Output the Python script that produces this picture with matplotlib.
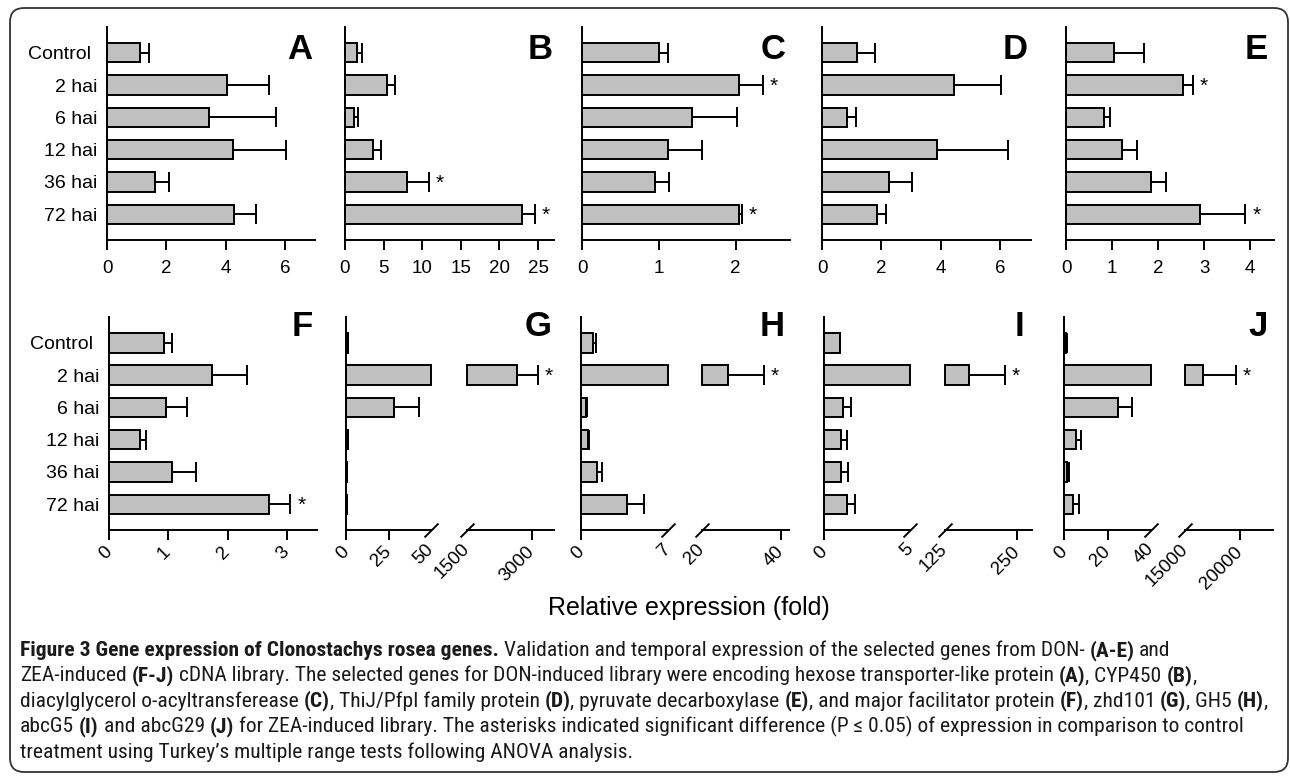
import numpy as np
import matplotlib
matplotlib.use('Agg')
import matplotlib.pyplot as plt
from matplotlib import font_manager
from matplotlib.patches import FancyBboxPatch
from matplotlib.transforms import IdentityTransform, ScaledTranslation

plt.rcParams['font.family'] = ['Liberation Sans', 'DejaVu Sans']

times = ['Control', '2 hai', '6 hai', '12 hai', '36 hai', '72 hai']

# DON-induced library (A-E): mean and SD (fold)
a_mean = [1.10, 4.04, 3.43, 4.24, 1.62, 4.26]
a_sd = [0.32, 1.41, 2.27, 1.80, 0.48, 0.74]
b_mean = [1.55, 5.4, 1.16, 3.6, 8.0, 22.9]
b_sd = [0.65, 1.1, 0.54, 1.1, 2.9, 1.7]
c_mean = [1.00, 2.05, 1.43, 1.12, 0.95, 2.04]
c_sd = [0.12, 0.31, 0.59, 0.44, 0.18, 0.04]
d_mean = [1.18, 4.44, 0.84, 3.87, 2.26, 1.85]
d_sd = [0.62, 1.59, 0.30, 2.39, 0.77, 0.30]
e_mean = [1.04, 2.54, 0.83, 1.22, 1.85, 2.91]
e_sd = [0.66, 0.22, 0.13, 0.33, 0.32, 0.99]

# ZEA-induced library (F-J)
f_mean = [0.93, 1.73, 0.96, 0.52, 1.07, 2.70]
f_sd = [0.13, 0.60, 0.36, 0.10, 0.39, 0.36]
g_mean = [1.0, 2650, 28.5, 1.0, 0.5, 0.5]
g_sd = [0.3, 490, 14.5, 0.2, 0.2, 0.2]
h_mean = [0.97, 26.6, 0.40, 0.56, 1.30, 3.70]
h_sd = [0.23, 9.1, 0.10, 0.06, 0.40, 1.40]
i_mean = [0.93, 167, 1.10, 1.00, 1.00, 1.33]
i_sd = [0.0, 62, 0.47, 0.34, 0.40, 0.47]
j_mean = [1.0, 16640, 24.9, 5.5, 1.5, 4.2]
j_sd = [0.3, 3000, 6.4, 2.3, 0.8, 2.7]

# significant (P <= 0.05) time points per panel
stars = {'A': [], 'B': [4, 5], 'C': [1, 5], 'D': [], 'E': [1, 5],
         'F': [5], 'G': [1], 'H': [1], 'I': [1], 'J': [1]}

caption = [
    [("Figure 3 Gene expression of Clonostachys rosea genes.", True),
     ("Validation and temporal expression of the selected genes from DON-", False),
     ("(A-E)", True), ("and", False)],
    [("ZEA-induced", False), ("(F-J)", True),
     ("cDNA library. The selected genes for DON-induced library were encoding hexose transporter-like protein", False),
     ("(A)", True), (", CYP450", False), ("(B)", True), (",", False)],
    [("diacylglycerol o-acyltransferease", False), ("(C)", True),
     (", ThiJ/PfpI family protein", False), ("(D)", True),
     (", pyruvate decarboxylase", False), ("(E)", True),
     (", and major facilitator protein", False), ("(F)", True),
     (", zhd101", False), ("(G)", True), (", GH5", False), ("(H)", True), (",", False)],
    [("abcG5", False), ("(I)", True), ("and abcG29", False), ("(J)", True),
     ("for ZEA-induced library. The asterisks indicated significant difference (P \u2264 0.05) of expression in comparison to control", False)],
    [("treatment using Turkey\u2019s multiple range tests following ANOVA analysis.", False)],
]

W, H = 1290, 778
fig = plt.figure(figsize=(W / 100, H / 100), dpi=100)
rows = {0: (27, 240), 1: (317, 530)}
ys = np.arange(6)
LW = 1.4
BAR = dict(height=0.6, color='#c0c0c0', edgecolor='black', linewidth=LW, clip_on=False)
ERR = dict(fmt='none', ecolor='black', elinewidth=LW, capsize=7, capthick=LW, clip_on=False)


def px_ax(x0, x1, row):
    y0, y1 = rows[row]
    return fig.add_axes([x0 / W, 1 - y1 / H, (x1 - x0) / W, (y1 - y0) / H])


def style(ax, row, left=True, ylabels=False):
    ax.patch.set_visible(False)
    for s in ['top', 'right']:
        ax.spines[s].set_visible(False)
    ax.spines['left'].set_visible(left)
    ax.spines['left'].set_linewidth(LW)
    ax.spines['bottom'].set_linewidth(LW)
    ax.set_ylim(5.8, -0.8)
    pad = 7 if row == 0 else 6.5
    ax.tick_params(axis='x', which='major', length=7.5, width=LW, labelsize=13.5, pad=pad)
    ax.tick_params(axis='x', which='minor', length=0, labelsize=13.5, pad=pad + 5.4)
    ax.tick_params(axis='y', length=0)
    if ylabels:
        ax.set_yticks(ys)
        ax.set_yticklabels(times, fontsize=14)
        ax.tick_params(axis='y', pad=7)
        lab = ax.get_yticklabels()[0]
        lab.set_transform(lab.get_transform() + ScaledTranslation(-6 / 100, 0, fig.dpi_scale_trans))
    else:
        ax.set_yticks([])
    if row == 1:
        for lab in ax.get_xticklabels(which='both'):
            lab.set_rotation(45)
            lab.set_ha('right')
            lab.set_va('center')
            lab.set_rotation_mode('anchor')


def add_star(ax, x, y):
    ax.annotate('*', xy=(x, y), xytext=(5, -1), textcoords='offset points',
                ha='left', va='center', fontsize=15, annotation_clip=False)


def letter(name, xr, yt):
    fig.text(xr / W, 1 - yt / H, name, ha='right', va='top', fontsize=25, fontweight='bold')


def simple_panel(name, x0, x1, row, mean, sd, xmax, ticks, ylabels=False):
    mean = np.array(mean); sd = np.array(sd)
    ax = px_ax(x0, x1, row)
    ax.barh(ys, mean, **BAR)
    ax.errorbar(mean, ys, xerr=[np.zeros(6), sd], **ERR)
    for k in stars[name]:
        add_star(ax, mean[k] + sd[k], k)
    ax.set_xlim(0, xmax)
    ax.set_xticks(ticks)
    ax.set_xticklabels([str(t) for t in ticks])
    style(ax, row, ylabels=ylabels)
    return ax


def break_mark(ax, xa):
    ax.plot([xa], [0], transform=ax.transAxes, marker=[(-1, -1), (1, 1)], markersize=10,
            color='black', mew=LW, linestyle='none', clip_on=False)


def broken_panel(name, seg1, seg2, mean, sd, lim1, lim2, ticks1, ticks2):
    mean = np.array(mean, dtype=float); sd = np.array(sd, dtype=float)
    ax1 = px_ax(seg1[0], seg1[1], 1)
    ax2 = px_ax(seg2[0], seg2[1], 1)
    split = mean > lim2[0]
    ax1.barh(ys, np.minimum(mean, lim1[1]), **BAR)
    ax1.errorbar(mean[~split], ys[~split], xerr=[np.zeros((~split).sum()), sd[~split]], **ERR)
    ax2.barh(ys[split], mean[split] - lim2[0], left=lim2[0], **BAR)
    ax2.errorbar(mean[split], ys[split], xerr=[np.zeros(split.sum()), sd[split]], **ERR)
    for k in stars[name]:
        add_star(ax2 if split[k] else ax1, mean[k] + sd[k], k)
    ax1.set_xlim(*lim1)
    ax2.set_xlim(*lim2)
    ax1.set_xticks(ticks1)
    ax1.set_xticklabels([str(t) for t in ticks1])
    ax1.set_xticks([lim1[1]], minor=True)
    ax1.set_xticklabels([str(lim1[1])], minor=True)
    ax2.set_xticks(ticks2)
    ax2.set_xticklabels([str(t) for t in ticks2])
    ax2.set_xticks([lim2[0]], minor=True)
    ax2.set_xticklabels([str(lim2[0])], minor=True)
    style(ax1, 1)
    style(ax2, 1, left=False)
    break_mark(ax1, 1)
    break_mark(ax2, 0)


# top row
simple_panel('A', 107, 315, 0, a_mean, a_sd, 7.0, [0, 2, 4, 6], ylabels=True)
simple_panel('B', 345, 554, 0, b_mean, b_sd, 27.07, [0, 5, 10, 15, 20, 25])
simple_panel('C', 582, 790, 0, c_mean, c_sd, 2.71, [0, 1, 2])
simple_panel('D', 822, 1031, 0, d_mean, d_sd, 7.04, [0, 2, 4, 6])
simple_panel('E', 1066, 1274, 0, e_mean, e_sd, 4.52, [0, 1, 2, 3, 4])

# bottom row
simple_panel('F', 109, 317, 1, f_mean, f_sd, 3.51, [0, 1, 2, 3], ylabels=True)
broken_panel('G', (346, 431), (467, 554), g_mean, g_sd, (0, 50), (1500, 3508), [0, 25], [3000])
broken_panel('H', (581, 668), (702, 789), h_mean, h_sd, (0, 7), (20, 42), [0], [40])
broken_panel('I', (824, 910), (945, 1032), i_mean, i_sd, (0, 5), (125, 276), [0], [250])
broken_panel('J', (1064, 1151), (1185, 1273), j_mean, j_sd, (0, 40), (15000, 23000), [0, 20], [20000])

for name, xr, yt in [('A', 312, 33), ('B', 553, 33), ('C', 786, 33), ('D', 1028, 33), ('E', 1268, 33),
                     ('F', 313, 310), ('G', 552, 310), ('H', 785, 310), ('I', 1024, 310), ('J', 1268, 310)]:
    letter(name, xr, yt)

fig.text(689 / W, 1 - 608 / H, 'Relative expression (fold)', ha='center', va='center', fontsize=18)

# caption with mixed bold runs
names = {f.name for f in font_manager.fontManager.ttflist}
cap_family = 'Liberation Sans'
for cand in ['Roboto Condensed', 'Liberation Sans Narrow', 'Open Sans Condensed']:
    if cand in names:
        cap_family = cand
        break
renderer = fig.canvas.get_renderer()


def draw_caption(size):
    arts = []
    fam = [cap_family, 'DejaVu Sans']
    probe1 = fig.text(0, 0, 'n n', fontsize=size, family=fam)
    probe2 = fig.text(0, 0, 'nn', fontsize=size, family=fam)
    space = probe1.get_window_extent(renderer).width - probe2.get_window_extent(renderer).width
    probe1.remove(); probe2.remove()
    widths = []
    for li, line in enumerate(caption):
        x = 20
        yb = H - (656 + 25.4 * li)
        for si, (txt, bold) in enumerate(line):
            if si > 0 and not txt.startswith(','):
                x += space
            t = fig.text(x / W, yb / H, txt, fontsize=size, family=fam,
                         fontweight='bold' if bold else 'normal', color='#1a1a1a',
                         ha='left', va='baseline')
            arts.append(t)
            x = t.get_window_extent(renderer).x1
        widths.append(x - 20)
    return arts, widths


arts, widths = draw_caption(12)
scale = 1248 / widths[2]
for a in arts:
    a.remove()
draw_caption(12 * scale)

border = FancyBboxPatch((10, H - 772), 1278, 764, boxstyle='round,pad=0,rounding_size=14',
                        transform=IdentityTransform(), fill=False, lw=1.3, ec='#333333')
fig.add_artist(border)

fig.savefig('out.png', dpi=100)
